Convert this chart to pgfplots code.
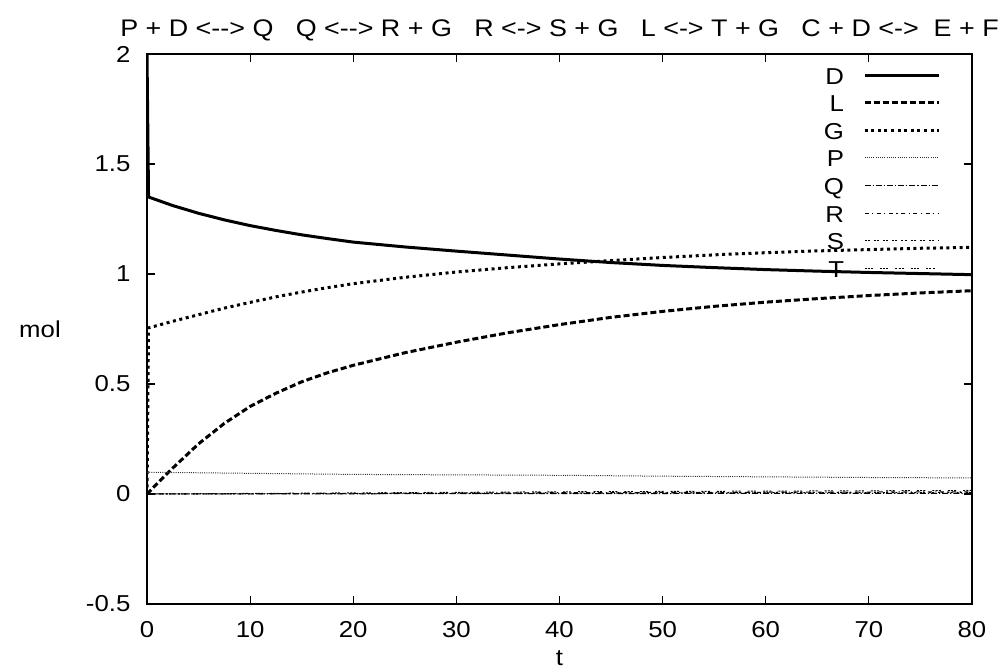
\documentclass[border=0pt]{standalone}
\usepackage{fontspec}
\setmainfont{Liberation Sans}[FakeStretch=1.12]
\usepackage{pgfplots}
\pgfplotsset{compat=1.18}
\newcommand{\hy}{\mbox{-}}
\begin{document}
\begin{tikzpicture}[font=\fontsize{11.5}{14}\selectfont]
\begin{axis}[
  width=412.5pt, height=275pt, scale only axis,
  xmin=0, xmax=80, ymin=-0.5, ymax=2,
  xtick={0,10,...,80}, ytick={-0.5,0,0.5,1,1.5,2},
  tick align=inside, major tick length=4pt,
  axis line style={line width=0.9pt},
  every tick/.style={black, line width=0.6pt},
  /pgf/number format/assume math mode=true,
  tick label style={font=\fontsize{11.5}{14}\selectfont},
  xticklabel style={yshift=-5pt},
  yticklabel style={xshift=-4.8pt},
  xlabel={t}, ylabel={mol},
  every axis x label/.style={at={(axis description cs:0.5,0)}, anchor=center, yshift=-27pt},
  every axis y label/.style={at={(axis description cs:0,0.5)}, anchor=center, xshift=-53.5pt},
  title={P + D <\hy\hy> Q~~~Q <\hy\hy> R + G~~~R <\hy> S + G~~~L <\hy> T + G~~~C + D <\hy>~~E + F},
  every axis title/.style={at={(axis description cs:0.5,1)}, anchor=base, yshift=8.75pt, font=\fontsize{12}{14}\selectfont},
  legend plot pos=right, legend cell align=right,
  legend image code/.code={\draw[#1] (0pt,0pt) -- (37pt,0pt);},
  legend style={draw=none, fill=none, at={(1,1)}, anchor=north east, xshift=-16pt, yshift=-6pt,
    inner sep=0pt, outer sep=0pt, row sep=4.8pt, column sep=9.5pt,
    nodes={inner sep=0pt, text height=9pt, text depth=0pt}},
]
% D
\addplot[black, line width=1.5pt] coordinates {
(0,2) (0.15,1.35) (2.5,1.311) (5,1.276) (7.5,1.246) (10,1.220) (12.5,1.198) (15,1.178) (17.5,1.161) (20,1.145) (25,1.123) (30,1.104) (35,1.086) (40,1.068) (45,1.052) (50,1.039) (55,1.029) (60,1.020) (65,1.013) (70,1.007) (75,1.002) (80,0.997)};
\addlegendentry{D}
% L
\addplot[black, line width=1.5pt, dash pattern=on 3pt off 1.5pt] coordinates {
(0,0) (1.25,0.06) (2.5,0.118) (5,0.228) (7.5,0.321) (10,0.398) (12.5,0.458) (15,0.51) (17.5,0.551) (20,0.585) (25,0.642) (30,0.69) (35,0.733) (40,0.77) (45,0.803) (50,0.83) (55,0.853) (60,0.872) (65,0.888) (70,0.902) (75,0.914) (80,0.924)};
\addlegendentry{L}
% G
\addplot[black, line width=1.5pt, dash pattern=on 1.5pt off 1.8pt] coordinates {
(0,0) (0.15,0.755) (2.5,0.785) (5,0.815) (7.5,0.845) (10,0.871) (12.5,0.896) (15,0.918) (17.5,0.938) (20,0.956) (25,0.985) (30,1.009) (35,1.029) (40,1.046) (45,1.061) (50,1.075) (55,1.087) (60,1.097) (65,1.105) (70,1.111) (75,1.117) (80,1.121)};
\addlegendentry{G}
% P
\addplot[black!80, line width=0.5pt, dash pattern=on 0.5pt off 0.6pt] coordinates {
(0,0.099) (10,0.094) (20,0.089) (30,0.087) (40,0.085) (50,0.081) (60,0.078) (70,0.075) (80,0.073)};
\addlegendentry{P}
% Q
\addplot[black, line width=0.5pt, dash pattern=on 3pt off 1pt on 0.6pt off 1pt] coordinates {
(0,0) (20,0.001) (40,0.002) (60,0.0025) (80,0.003)};
\addlegendentry{Q}
% R
\addplot[black, line width=0.5pt, dash pattern=on 2pt off 1.75pt on 0.6pt off 1.75pt] coordinates {
(0,0) (20,0.003) (40,0.006) (60,0.008) (80,0.01)};
\addlegendentry{R}
% S
\addplot[black, line width=0.5pt, dash pattern=on 1pt off 0.6pt on 1pt off 2pt] coordinates {
(0,0) (20,0.002) (40,0.004) (60,0.006) (80,0.007)};
\addlegendentry{S}
% T
\addplot[black, line width=0.5pt, dash pattern=on 1pt off 0.6pt on 1pt off 0.6pt on 1pt off 3.5pt] coordinates {
(0,0) (20,0.005) (40,0.01) (60,0.013) (80,0.016)};
\addlegendentry{T}
\end{axis}
\pgfresetboundingbox
\path ([xshift=-73.5pt,yshift=-33pt]current axis.south west) rectangle ([xshift=18pt,yshift=27pt]current axis.north east);
\end{tikzpicture}
\end{document}
